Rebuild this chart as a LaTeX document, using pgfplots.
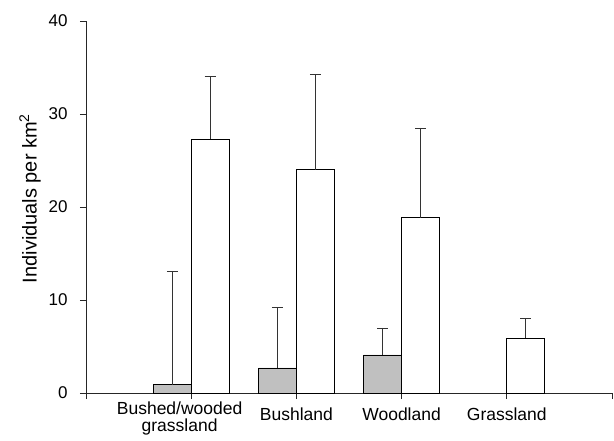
\documentclass[border=0pt]{standalone}
\usepackage{pgfplots}
\pgfplotsset{compat=1.18}
\usepackage{fontspec}
\setmainfont{Liberation Sans}
\definecolor{barfill}{RGB}{192,192,192}
\begin{document}
\begin{tikzpicture}
\path[use as bounding box] (-86pt,-47pt) rectangle (528pt,393pt);
\begin{axis}[
  at={(0,0)}, anchor=south west,
  scale only axis, width=526pt, height=372pt,
  xmin=0, xmax=5, ymin=0, ymax=40,
  axis x line=bottom, axis y line=left,
  axis line style={-, line width=0.8pt, black!85},
  xtick={0,1,2,3,4,5},
  xticklabels={,,Bushland,Woodland,Grassland,},
  extra x ticks={0.89},
  extra x tick labels={Bushed/wooded\\grassland},
  extra x tick style={major tick length=0pt},
  ytick={0,10,20,30,40},
  tick align=outside,
  major tick length=6pt,
  tick style={line width=0.7pt, black!85},
  /pgf/number format/assume math mode=true,
  yticklabel style={font=\fontsize{17}{18}\selectfont, xshift=-9pt},
  xticklabel style={font=\fontsize{17.5}{17}\selectfont, align=center, yshift=-5pt},
  ylabel={Individuals per km\textsuperscript{2}},
  ylabel style={font=\fontsize{20}{21}\selectfont, at={(axis description cs:-0.1065,0.523)}, anchor=center},
  ybar, bar width=0.36, bar shift=0pt,
  clip=false,
]
\addplot[fill=barfill, draw=black, line width=0.7pt,
  error bars/.cd, y dir=plus, y explicit,
  error mark=-, error mark options={rotate=90, mark size=5.5pt, line width=0.8pt, black!80},
  error bar style={line width=0.8pt, black!80}]
  coordinates {(0.82,0.9) +- (0,12.2) (1.82,2.7) +- (0,6.5) (2.82,4.1) +- (0,2.9)};
\addplot[fill=white, draw=black, line width=0.7pt,
  error bars/.cd, y dir=plus, y explicit,
  error mark=-, error mark options={rotate=90, mark size=5.5pt, line width=0.8pt, black!80},
  error bar style={line width=0.8pt, black!80}]
  coordinates {(1.18,27.3) +- (0,6.7) (2.18,24.0) +- (0,10.3) (3.18,18.85) +- (0,9.65) (4.18,5.9) +- (0,2.1)};
\end{axis}
\end{tikzpicture}
\end{document}
